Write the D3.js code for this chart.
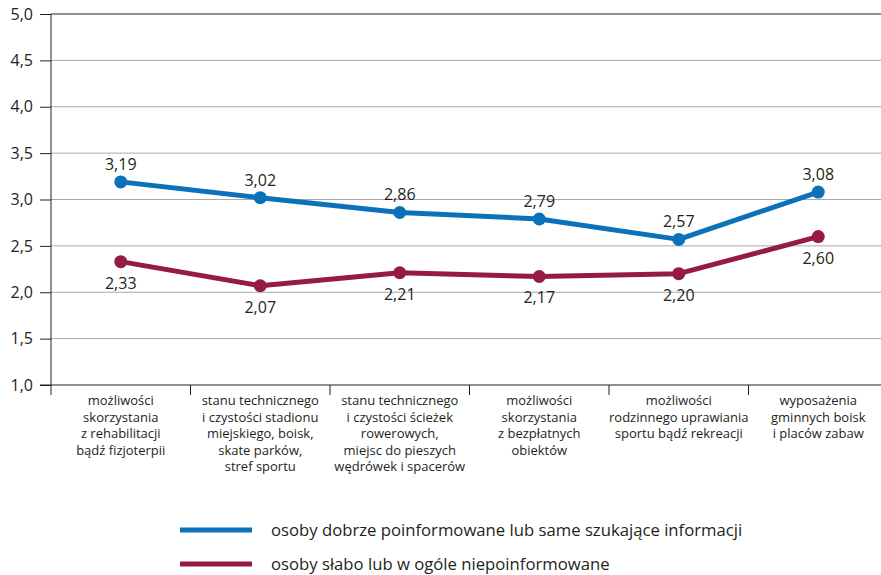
<!DOCTYPE html>
<html><head><meta charset="utf-8">
<script src="https://cdn.jsdelivr.net/npm/d3@7"></script>
<style>body{margin:0;background:#fff;} svg{display:block;} text{font-family:"Open Sans","Noto Sans",sans-serif;fill:#231f20;}</style>
</head><body><svg id="c" width="881" height="575"></svg>
<script>
const categories = [
  ["możliwości","skorzystania","z rehabilitacji","bądź fizjoterpii"],
  ["stanu technicznego","i czystości stadionu","miejskiego, boisk,","skate parków,","stref sportu"],
  ["stanu technicznego","i czystości ścieżek","rowerowych,","miejsc do pieszych","wędrówek i spacerów"],
  ["możliwości","skorzystania","z bezpłatnych","obiektów"],
  ["możliwości","rodzinnego uprawiania","sportu bądź rekreacji"],
  ["wyposażenia","gminnych boisk","i placów zabaw"]
];
const seriesNames = ["osoby dobrze poinformowane lub same szukające informacji","osoby słabo lub w ogóle niepoinformowane"];
const informed = [3.19, 3.02, 2.86, 2.79, 2.57, 3.08];
const uninformed = [2.33, 2.07, 2.21, 2.17, 2.20, 2.60];
const yTicks = [1.0,1.5,2.0,2.5,3.0,3.5,4.0,4.5,5.0];
const colors = ["#0b72b9","#951a45"];

const svg = d3.select("#c");
const x = d3.scaleBand().domain(d3.range(categories.length)).range([51, 888]);
const y = d3.scaleLinear().domain([1,5]).range([385,14]);
const fmt = v => v.toFixed(2).replace(".",",");
const fmtT = v => v.toFixed(1).replace(".",",");

// gridlines
svg.append("g").selectAll("line").data(yTicks.filter(t=>t>1)).join("line")
  .attr("x1",51).attr("x2",881).attr("y1",d=>y(d)).attr("y2",d=>y(d))
  .attr("stroke",d=>d===5?"#231f20":"#a7a9ac").attr("stroke-width",1);

// y axis
const yAxis = d3.axisLeft(y).tickValues(yTicks).tickFormat(fmtT).tickSize(11).tickPadding(7);
const gy = svg.append("g").attr("transform","translate(51,0)").call(yAxis);
gy.select(".domain").attr("stroke","#231f20").attr("d","M0,14V385");
gy.selectAll(".tick line").attr("stroke","#231f20");
gy.selectAll(".tick text").attr("font-size",16).attr("fill","#231f20");

// x axis
const gx = svg.append("g").attr("transform","translate(0,385)");
gx.append("line").attr("x1",40).attr("x2",881).attr("y1",0).attr("y2",0).attr("stroke","#231f20");
gx.selectAll("line.t").data(d3.range(categories.length+1)).join("line").attr("class","t")
  .attr("x1",d=>x.range()[0]+d*x.step()).attr("x2",d=>x.range()[0]+d*x.step())
  .attr("y1",0).attr("y2",10).attr("stroke","#231f20");
gx.selectAll("text.cat").data(categories).join("text").attr("class","cat")
  .attr("text-anchor","middle").attr("font-size",13)
  .attr("transform",(d,i)=>`translate(${x(i)+x.bandwidth()/2},20)`)
  .each(function(lines){
    d3.select(this).selectAll("tspan").data(lines).join("tspan")
      .attr("x",0).attr("y",(d,j)=>j*16.6).text(d=>d);
  });

const cx = i => x(i)+x.bandwidth()/2;
const line = d3.line().x((d,i)=>cx(i)).y(d=>y(d));
[informed, uninformed].forEach((s,k)=>{
  svg.append("path").datum(s).attr("d",line).attr("fill","none")
    .attr("stroke",colors[k]).attr("stroke-width",5).attr("stroke-linejoin","round");
  svg.append("g").selectAll("circle").data(s).join("circle")
    .attr("cx",(d,i)=>cx(i)).attr("cy",d=>y(d)).attr("r",6.5).attr("fill",colors[k]);
  svg.append("g").selectAll("text").data(s).join("text")
    .attr("x",(d,i)=>cx(i)).attr("y",d=>k===0? y(d)-12 : y(d)+27)
    .attr("text-anchor","middle").attr("font-size",16).text(fmt);
});

// legend
const lg = svg.append("g");
seriesNames.forEach((n,k)=>{
  const yy = 530 + k*34;
  lg.append("line").attr("x1",180).attr("x2",252).attr("y1",yy).attr("y2",yy)
    .attr("stroke",colors[k]).attr("stroke-width",5);
  lg.append("text").attr("x",271).attr("y",yy+6).attr("font-size",16.7).text(n);
});
</script></body></html>
